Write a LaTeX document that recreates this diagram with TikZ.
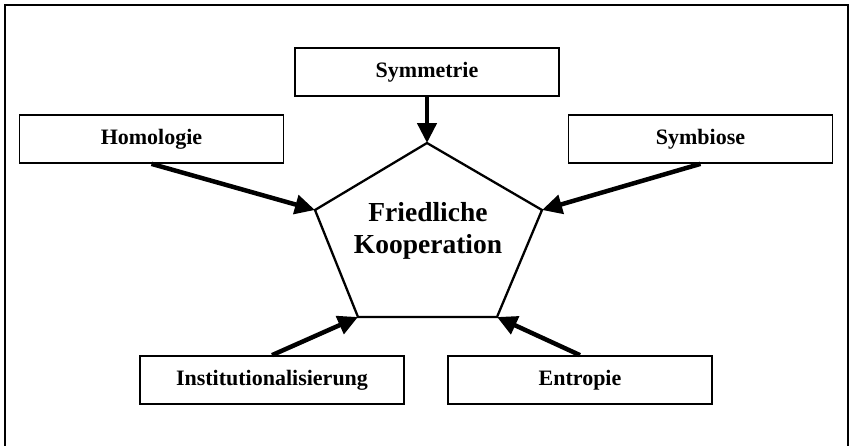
\documentclass[tikz,border=0pt]{standalone}
\usepackage{fontspec}
\setmainfont{Liberation Serif}
\usetikzlibrary{arrows.meta,positioning}

\begin{document}
\begin{tikzpicture}[
    x=1pt, y=-1pt,
    box/.style={
        draw,
        line width=1.7pt,
        align=center,
        font=\fontsize{22}{26}\selectfont\bfseries,
        minimum width=264pt,
        minimum height=48pt,
        inner sep=0pt
    },
    edge/.style={-{Triangle[length=20pt,width=19pt]}, line width=4.5pt},
    frame/.style={draw, line width=1.8pt}
]
\useasboundingbox (0,0) rectangle (850,445);
\draw[frame] (5,5) rectangle (848,449);

% the five boxes
\node[box] (sym) at (427,72) {Symmetrie};
\node[box] (hom) at (151.5,139) {Homologie};
\node[box] (sbi) at (700.5,139) {Symbiose};
\node[box] (ins) at (272,380) {Institutionalisierung};
\node[box] (ent) at (580,380) {Entropie};

% pentagon in the middle
\coordinate (ptop) at (427,143);
\coordinate (pright) at (542,210);
\coordinate (pbr) at (497,317);
\coordinate (pbl) at (358,317);
\coordinate (pleft) at (315,210);
\draw[line width=2.3pt, line join=miter] (ptop) -- (pright) -- (pbr) -- (pbl) -- (pleft) -- cycle;
\node[align=center, font=\fontsize{27.5}{32}\selectfont\bfseries] (koop) at (428,231) {Friedliche\\Kooperation};

\draw[edge] (sym.south) -- (ptop);
\draw[edge] (hom.south) -- (pleft);
\draw[edge] (sbi.south) -- (pright);
\draw[edge] (ins.north) -- (pbl);
\draw[edge] (ent.north) -- (pbr);
\end{tikzpicture}
\end{document}
